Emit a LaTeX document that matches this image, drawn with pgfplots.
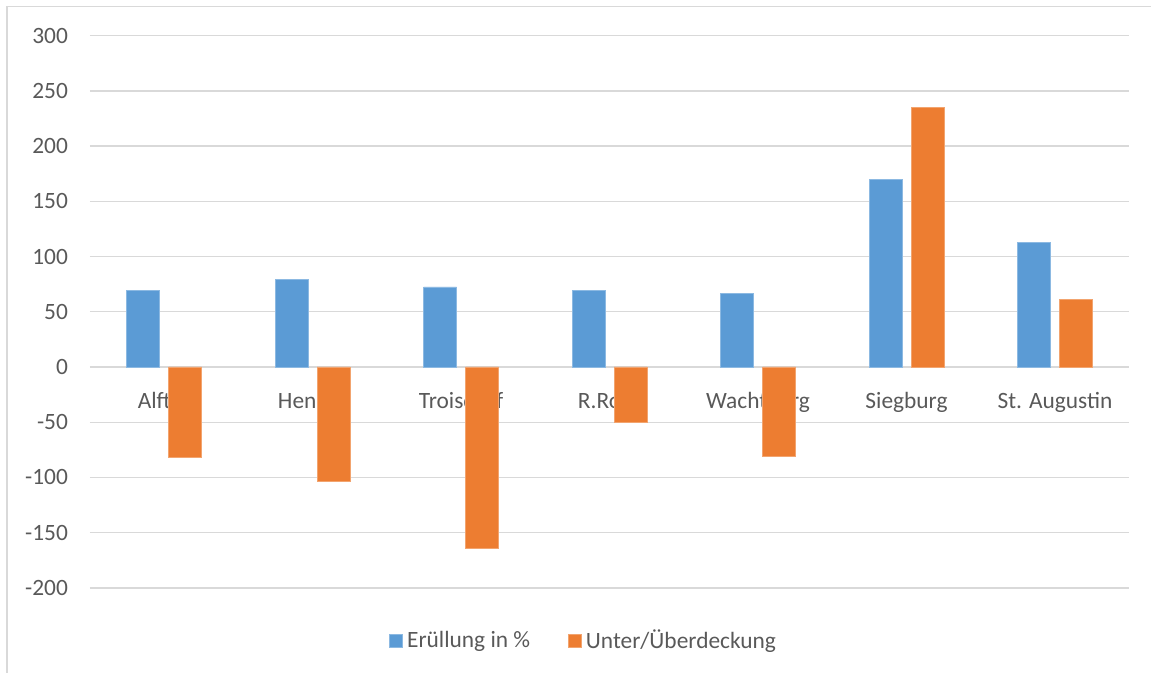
\documentclass[border=0pt]{standalone}
\usepackage{pgfplots}
\pgfplotsset{compat=1.18}
\usepackage{fontspec}
\setmainfont{Carlito}
\definecolor{barblue}{HTML}{5B9BD5}
\definecolor{barorange}{HTML}{ED7D31}
\definecolor{gridgray}{HTML}{D9D9D9}
\definecolor{textgray}{HTML}{595959}
% tick labels below the bars, as in the original
\pgfplotsset{
  layers/labels behind/.define layer set={axis background,axis grid,axis ticks,axis lines,axis tick labels,pre main,main,axis descriptions,axis foreground}{/pgfplots/layers/standard},
}
\begin{document}
\fontsize{11.5}{14}\selectfont
\begin{tikzpicture}
\draw[gridgray, line width=0.8pt] (3.5pt,0) -- (3.5pt,333.25pt) -- (576pt,333.25pt);
\begin{axis}[
  at={(45pt,42.35pt)}, anchor=south west,
  scale only axis, width=520pt, height=276.3pt,
  set layers=labels behind,
  ybar, bar width=16.5pt,
  xmin=-0.5, xmax=6.5,
  ymin=-200, ymax=300,
  ytick={-200,-150,...,300},
  xtick={0,...,6},
  xticklabels={Alfter,Hennef,Troisdorf,R.Roth,Wachtberg,Siegburg,St. Augustin},
  axis x line=middle, axis y line=left,
  x axis line style={-, draw=gridgray, line width=0.65pt},
  y axis line style={draw=none},
  hide obscured x ticks=false, hide obscured y ticks=false,
  major tick length=0pt,
  ymajorgrids, grid style={gridgray, line width=0.65pt},
  tick label style={text=textgray, font=\fontsize{11.7}{14}\selectfont},
  xticklabel style={anchor=north, yshift=-8.5pt},
  yticklabel style={anchor=east, xshift=-7pt},
  /pgf/number format/assume math mode=true,
  legend style={at={(0.476,-0.096)}, anchor=center, draw=none, fill=none,
    legend columns=2, text=textgray, font=\fontsize{11.7}{14}\selectfont,
    /tikz/every even column/.append style={column sep=17pt}},
  legend image code/.code={\fill[#1] (0pt,-3.25pt) rectangle (6.5pt,3.25pt);},
]
\addplot[fill=barblue, draw=barblue!70!white, line width=0.4pt, bar shift=-10.5pt] coordinates {
  (0,69) (1,79) (2,72.5) (3,69) (4,67) (5,169.5) (6,113)};
\addplot[fill=barorange, draw=barorange!70!white, line width=0.4pt, bar shift=10.5pt] coordinates {
  (0,-82) (1,-104) (2,-164) (3,-50) (4,-81) (5,235) (6,61)};
\legend{Erüllung in \%, Unter/Überdeckung}
\end{axis}
\useasboundingbox (0,0) rectangle (576pt,336.5pt);
\end{tikzpicture}
\end{document}
